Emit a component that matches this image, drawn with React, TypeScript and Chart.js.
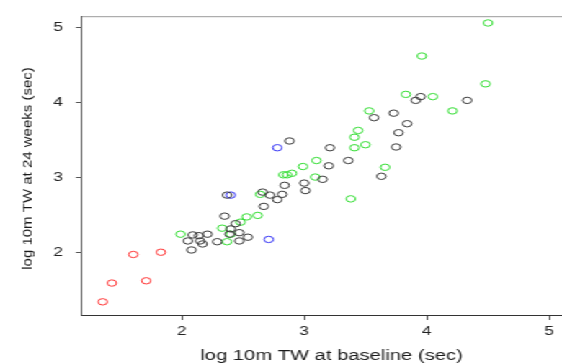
import React, { useEffect, useRef } from "react";
import { Chart, registerables } from "chart.js";
Chart.register(...registerables);

// Data (log 10m TW, seconds)
const redX = [1.355, 1.43, 1.605, 1.71, 1.83];
const redY = [1.35, 1.6, 1.98, 1.63, 2.01];
const blueX = [2.4, 2.78, 2.71];
const blueY = [2.77, 3.4, 2.18];
const greenX = [1.99, 2.33, 2.37, 2.4, 2.48, 2.53, 2.62, 2.64, 2.83, 2.86, 2.9, 2.99, 3.1, 3.09, 3.38, 3.41, 3.41, 3.44, 3.5, 3.53, 3.66, 3.83, 4.05, 3.96, 4.21, 4.48, 4.5];
const greenY = [2.25, 2.33, 2.15, 2.25, 2.41, 2.48, 2.5, 2.78, 3.04, 3.04, 3.06, 3.15, 3.23, 3.01, 2.72, 3.54, 3.4, 3.63, 3.44, 3.89, 3.14, 4.11, 4.08, 4.62, 3.89, 4.25, 5.06];
const blackX = [2.09, 2.05, 2.14, 2.15, 2.17, 2.21, 2.08, 2.29, 2.35, 2.37, 2.4, 2.44, 2.47, 2.39, 2.47, 2.54, 2.67, 2.66, 2.72, 2.78, 2.82, 2.84, 3.01, 3.0, 2.88, 3.21, 3.2, 3.36, 3.15, 3.63, 3.75, 3.77, 3.84, 3.73, 3.57, 3.95, 3.91, 4.33];
const blackY = [2.24, 2.16, 2.23, 2.16, 2.12, 2.25, 2.04, 2.15, 2.49, 2.77, 2.32, 2.39, 2.27, 2.25, 2.16, 2.21, 2.62, 2.81, 2.77, 2.71, 2.78, 2.9, 2.83, 2.93, 3.49, 3.4, 3.16, 3.23, 2.98, 3.02, 3.41, 3.6, 3.72, 3.86, 3.8, 4.08, 4.03, 4.03];
const tickValues = [2, 3, 4, 5];
const xTitle = "log 10m TW at baseline (sec)";
const yTitle = "log 10m TW at 24 weeks (sec)";

const S = 562 / 390; // horizontal stretch of the reference picture
const W = 390;
const H = 363;

function pts(xs: number[], ys: number[]) {
  return xs.map((x, i) => ({ x, y: ys[i] }));
}

export default function App() {
  const ref = useRef<HTMLCanvasElement | null>(null);
  useEffect(() => {
    if (!ref.current) return;
    const ds = (label: string, xs: number[], ys: number[], color: string) => ({
      label,
      data: pts(xs, ys),
      borderColor: color,
      backgroundColor: "rgba(0,0,0,0)",
      pointRadius: 3.2,
      pointBorderWidth: 1,
      pointHoverRadius: 3.2,
    });
    const titles = {
      id: "titles",
      afterDraw(chart: any) {
        const ctx = chart.ctx;
        ctx.save();
        ctx.fillStyle = "#1a1a1a";
        ctx.font = '14px "Liberation Sans", Arial, sans-serif';
        ctx.textAlign = "center";
        ctx.textBaseline = "alphabetic";
        ctx.fillText(xTitle, 331.5 / S, 359.7);
        ctx.translate(28 / S, 168.5);
        ctx.rotate(-Math.PI / 2);
        ctx.scale(1, 0.56);
        ctx.font = '15px "Liberation Sans", Arial, sans-serif';
        ctx.textBaseline = "middle";
        ctx.fillText(yTitle, 0, 0);
        ctx.restore();
        // top frame line
        const a = chart.chartArea;
        ctx.save();
        ctx.strokeStyle = "#9a9a9a";
        ctx.lineWidth = 1;
        ctx.beginPath();
        ctx.moveTo(a.left, a.top + 0.5);
        ctx.lineTo(a.right, a.top + 0.5);
        ctx.stroke();
        ctx.restore();
      },
    };
    const tickFont = { family: '"Liberation Sans", Arial, sans-serif', size: 12 };
    const chart = new Chart(ref.current, {
      type: "scatter",
      data: {
        datasets: [
          ds("black", blackX, blackY, "#3a3a3a"),
          ds("green", greenX, greenY, "#33dd33"),
          ds("blue", blueX, blueY, "#3535f5"),
          ds("red", redX, redY, "#ff3535"),
        ],
      },
      options: {
        animation: false,
        responsive: false,
        events: [],
        layout: { padding: { top: 13, left: 0, right: 0, bottom: 0 }, autoPadding: false },
        plugins: { legend: { display: false }, tooltip: { enabled: false } },
        scales: {
          x: {
            type: "linear",
            min: 1.186,
            max: 5.104,
            afterBuildTicks: (axis: any) => {
              axis.ticks = tickValues.map((v) => ({ value: v }));
            },
            afterFit: (axis: any) => {
              axis.height = 48;
            },
            ticks: { font: tickFont, color: "#222", padding: 4, maxRotation: 0 },
            grid: { drawOnChartArea: false, drawTicks: true, tickLength: 5, color: "#444" },
            border: { display: true, color: "#333", width: 1 },
          },
          y: {
            type: "linear",
            min: 1.175,
            max: 5.15,
            afterBuildTicks: (axis: any) => {
              axis.ticks = tickValues.map((v) => ({ value: v }));
            },
            afterFit: (axis: any) => {
              axis.width = 82 / S;
            },
            ticks: { font: tickFont, color: "#222", padding: 9 },
            grid: { drawOnChartArea: false, drawTicks: true, tickLength: 4.2, color: "#555" },
            border: { display: true, color: "#555", width: 1 },
          },
        },
      },
      plugins: [titles],
    } as any);
    return () => chart.destroy();
  }, []);
  return (
    <div
      style={{
        position: "fixed",
        left: 0,
        top: 0,
        width: W,
        height: H,
        transform: `scaleX(${S})`,
        transformOrigin: "0 0",
        background: "#fff",
      }}
    >
      <canvas ref={ref} width={W} height={H} style={{ width: W, height: H, display: "block" }} />
    </div>
  );
}
